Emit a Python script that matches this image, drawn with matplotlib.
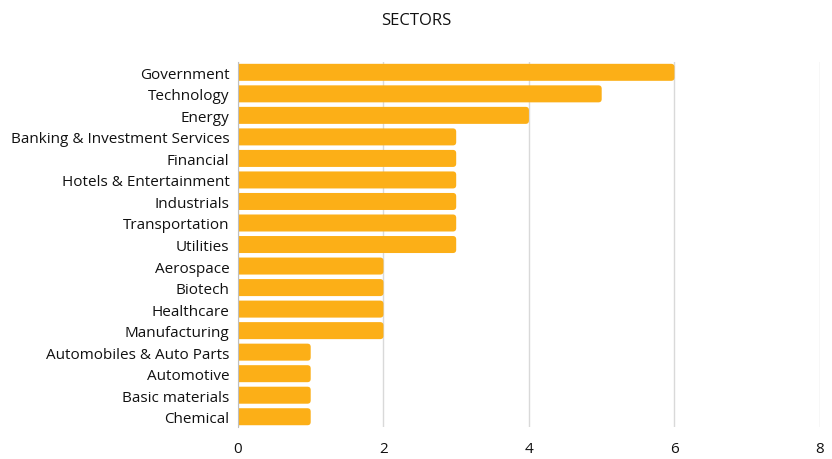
import matplotlib
matplotlib.use("Agg")
import matplotlib.pyplot as plt
from matplotlib.patches import FancyBboxPatch

plt.rcParams['font.family'] = ['Open Sans', 'DejaVu Sans']

categories = ["Government", "Technology", "Energy", "Banking & Investment Services",
              "Financial", "Hotels & Entertainment", "Industrials", "Transportation",
              "Utilities", "Aerospace", "Biotech", "Healthcare", "Manufacturing",
              "Automobiles & Auto Parts", "Automotive", "Basic materials", "Chemical"]
values = [6, 5, 4, 3, 3, 3, 3, 3, 3, 2, 2, 2, 2, 1, 1, 1, 1]
xticks = [0, 2, 4, 6, 8]

color = "#FCAF17"
fig = plt.figure(figsize=(8.32, 4.6), dpi=100)
ax = fig.add_axes([0.286, 0.0685, 0.6995, 0.7955])

n = len(categories)
ypos = list(range(n))
bars = ax.barh(ypos, values, height=0.79, color=color)
ax.set_xlim(0, 8)
ax.set_ylim(n - 0.5, -0.5)

# replace with rounded bars
for b in bars:
    x, y = b.get_x(), b.get_y()
    w, h = b.get_width(), b.get_height()
    b.set_visible(False)
    p = FancyBboxPatch((x - 0.05, y), w + 0.05, h,
                       boxstyle="round,pad=0,rounding_size=0.045",
                       mutation_aspect=3.4, facecolor=color, edgecolor='none',
                       zorder=2, clip_on=True)
    ax.add_patch(p)

ax.set_yticks(ypos)
ax.set_yticklabels(categories, fontsize=11, color="#111111")
ax.set_xticks(xticks)
ax.set_xticklabels([str(t) for t in xticks], fontsize=11, color="#111111")
ax.tick_params(axis='both', length=0)
ax.tick_params(axis='y', pad=6)
ax.tick_params(axis='x', pad=10)

ax.grid(axis='x', color='#d9d9d9', linewidth=1, zorder=0)
ax.set_axisbelow(True)
for s in ['top', 'right', 'bottom']:
    ax.spines[s].set_visible(False)
ax.spines['left'].set_color('#bfbfbf')
ax.spines['left'].set_zorder(3)

fig.text(0.5, 0.955, "SECTORS", ha='center', va='center', fontsize=12, color="#111111")

fig.savefig("out.png", dpi=100)
